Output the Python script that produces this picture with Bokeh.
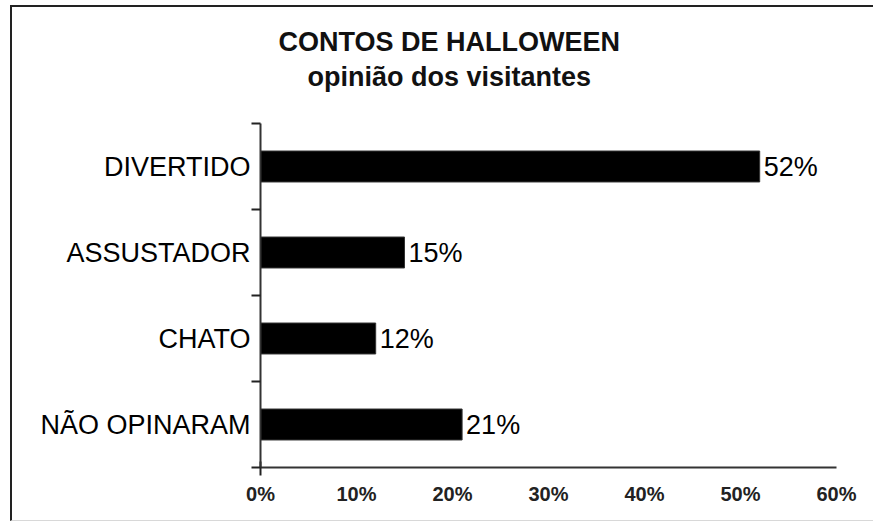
from bokeh.plotting import figure
from bokeh.models import FixedTicker, ColumnDataSource, Title, Range1d
from bokeh.core.properties import value
from bokeh.embed import file_html
from bokeh.resources import INLINE

# ---- data ----
categories = ["NÃO OPINARAM", "CHATO", "ASSUSTADOR", "DIVERTIDO"]  # bottom -> top
percentages = [21, 12, 15, 52]
x_ticks = [0, 10, 20, 30, 40, 50, 60]
x_tick_labels = ["0%", "10%", "20%", "30%", "40%", "50%", "60%"]
title_text = "CONTOS DE HALLOWEEN"
subtitle_text = "opinião dos visitantes"

FONT = "Liberation Sans"

positions = [i + 0.5 for i in range(len(categories))]
src = ColumnDataSource(dict(
    y=positions,
    v=percentages,
    lab=[f"{v}%" for v in percentages],
    cat=categories,
))

W, H = 863, 516
p = figure(width=W, height=H, output_backend="svg", toolbar_location=None,
           x_range=Range1d(0, 60), y_range=Range1d(0, len(categories)),
           min_border_left=248, min_border_right=39,
           min_border_top=116, min_border_bottom=56)
p.styles = {"margin-left": "10px", "margin-top": "5px",
            "border-left": "2px solid #222", "border-top": "2px solid #222",
            "border-bottom": "1px solid #d8d8d8"}
p.outline_line_color = None
p.grid.visible = False
p.background_fill_color = "white"
p.border_fill_color = "white"

p.hbar(y="y", right="v", left=0, height=0.36, source=src,
       fill_color="black", line_color="#333333", line_width=1)
p.text(x="v", y="y", text="lab", source=src, x_offset=4,
       text_baseline="middle", text_align="left",
       text_font=value(FONT), text_font_size="27px", text_color="#000000")

# x axis
xa = p.xaxis[0]
xa.ticker = FixedTicker(ticks=x_ticks, minor_ticks=[0])
xa.major_label_overrides = {t: l for t, l in zip(x_ticks, x_tick_labels)}
xa.major_tick_line_color = None
xa.major_tick_out = 0
xa.major_tick_in = 0
xa.minor_tick_line_color = "#222222"
xa.minor_tick_line_width = 2
xa.minor_tick_out = 8
xa.minor_tick_in = 6
xa.axis_line_color = "#333333"
xa.axis_line_width = 2
xa.major_label_standoff = 7
xa.major_label_text_font = FONT
xa.major_label_text_font_style = "bold"
xa.major_label_text_font_size = "20px"
xa.major_label_text_color = "#222222"

# y axis
ya = p.yaxis[0]
ya.ticker = FixedTicker(ticks=positions, minor_ticks=list(range(len(categories) + 1)))
ya.major_label_overrides = {pos: c for pos, c in zip(positions, categories)}
ya.major_tick_line_color = None
ya.major_tick_out = 0
ya.major_tick_in = 0
ya.minor_tick_line_color = "#222222"
ya.minor_tick_line_width = 2
ya.minor_tick_out = 9
ya.minor_tick_in = 0
ya.axis_line_color = "#333333"
ya.axis_line_width = 2
ya.major_label_standoff = 1
ya.major_label_text_font = FONT
ya.major_label_text_font_size = "27px"
ya.major_label_text_color = "#000000"

# titles (subtitle first: closest to the frame)
p.add_layout(Title(text=subtitle_text, align="left", offset=47, standoff=64,
                   text_font=FONT, text_font_style="bold", text_font_size="27px",
                   text_color="#111111"), "above")
p.add_layout(Title(text=title_text, align="left", offset=18, standoff=-58,
                   text_font=FONT, text_font_style="bold", text_font_size="27px",
                   text_color="#111111"), "above")

open("out.html", "w").write(file_html(p, INLINE))
